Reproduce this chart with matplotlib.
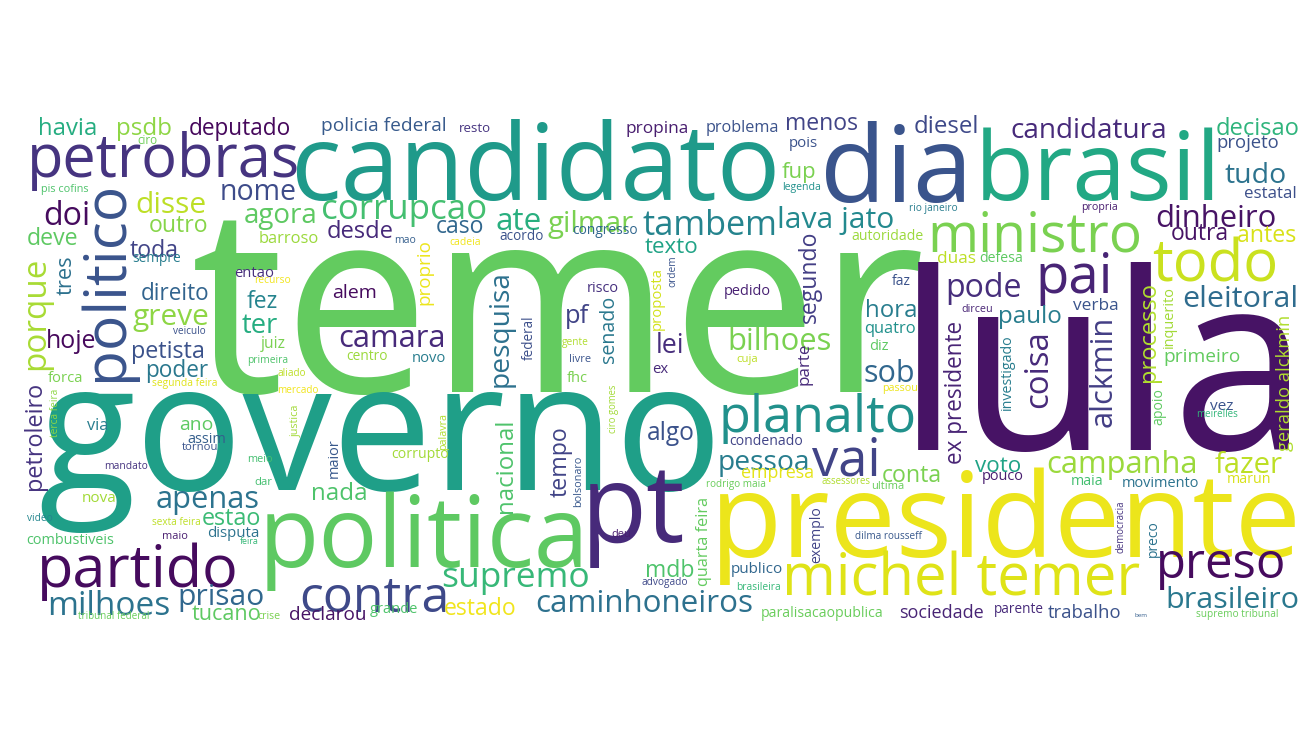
import numpy as np
import matplotlib
matplotlib.use("Agg")
import matplotlib.pyplot as plt
from matplotlib import cm

W, H = 1301, 744
FONT = "Open Sans"

# words of the cloud, biggest first
words = [
    "temer", "lula", "governo", "candidato", "presidente", "politica", "dia", "brasil",
    "petrobras", "pt", "michel temer", "politico", "partido", "ministro", "todo", "planalto",
    "contra", "pai", "vai", "preso", "supremo", "caminhoneiros", "milhoes", "brasileiro",
    "prisao", "apenas", "campanha", "fazer", "bilhoes", "camara", "tambem", "gilmar",
    "corrupcao", "ate", "lava jato", "candidatura", "dinheiro", "eleitoral", "nome", "disse",
    "doi", "pesquisa", "porque", "alckmin", "coisa", "pode", "pessoa", "processo", "segundo",
    "deputado", "havia", "psdb", "policia federal", "diesel", "decisao", "projeto", "tudo",
    "estatal", "menos", "problema", "propina", "resto", "fup", "pois", "agora", "outro",
    "desde", "caso", "deve", "toda", "barroso", "tres", "sempre", "entao", "recurso",
    "direito", "alem", "fez", "greve", "ter", "hoje", "juiz", "veiculo", "petista", "centro",
    "novo", "primeira", "poder", "aliado", "forca", "segunda feira", "mercado", "petroleiro",
    "terca feira", "via", "ano", "justica", "palavra", "assim", "tornou", "maior", "corrupto",
    "mandato", "meio", "dar", "nada", "nova", "estao", "video", "sexta feira", "disputa",
    "maio", "feira", "combustiveis", "tucano", "declarou", "grande", "tribunal federal",
    "crise", "risco", "pedido", "pf", "senado", "federal", "lei", "gente", "livre", "cuja",
    "parte", "proposta", "ordem", "texto", "acordo", "cadeia", "congresso", "hora", "quatro",
    "diz", "faz", "sob", "passou", "legenda", "ex", "fhc", "ciro gomes", "algo", "condenado",
    "nacional", "tempo", "bolsonaro", "empresa", "rodrigo maia", "quarta feira", "exemplo",
    "deu", "mdb", "publico", "advogado", "brasileira", "estado", "paralisacaopublica",
    "assessores", "autoridade", "rio janeiro", "propria", "outra", "antes", "duas", "defesa",
    "paulo", "verba", "dirceu", "inquerito", "primeiro", "ex presidente", "investigado",
    "geraldo alckmin", "voto", "pouco", "maia", "movimento", "marun", "apoio", "vez",
    "meirelles", "ultima", "conta", "dilma rousseff", "democracia", "preco", "sociedade",
    "parente", "trabalho", "bem", "supremo tribunal", "ciro", "pis cofins", "mao", "proprio",
]

# layout (pixels, y down)
# 'h': (ink left, ink right, baseline y, shade)
# 'v': (ink bottom, ink top, ink left, ink right, shade)  -- reads bottom to top
layout = {
    "temer": ("h", 195, 919, 392, 0.76),
    "lula": ("h", 920, 1290, 450, 0.05),
    "governo": ("h", 42, 713, 490, 0.56),
    "candidato": ("h", 297, 775, 200, 0.54),
    "presidente": ("h", 720, 1295, 557, 0.97),
    "politica": ("h", 267, 580, 567, 0.75),
    "dia": ("h", 827, 965, 202, 0.26),
    "brasil": ("h", 983, 1212, 200, 0.6),
    "petrobras": ("h", 32, 297, 177, 0.15),
    "pt": ("h", 590, 682, 542, 0.12),
    "michel temer": ("h", 788, 1140, 595, 0.95),
    "politico": ("v", 382, 190, 83, 140, 0.26),
    "partido": ("h", 42, 235, 587, 0.03),
    "ministro": ("h", 932, 1138, 252, 0.8),
    "todo": ("h", 1153, 1275, 282, 0.92),
    "planalto": ("h", 723, 913, 432, 0.5),
    "contra": ("h", 302, 445, 612, 0.22),
    "pai": ("h", 1040, 1108, 293, 0.1),
    "vai": ("h", 812, 877, 475, 0.2),
    "preso": ("h", 1160, 1283, 578, 0.03),
    "supremo": ("h", 443, 588, 587, 0.67),
    "caminhoneiros": ("h", 537, 752, 612, 0.37),
    "milhoes": ("h", 50, 168, 615, 0.38),
    "brasileiro": ("h", 1168, 1297, 608, 0.4),
    "prisao": ("h", 180, 263, 605, 0.33),
    "apenas": ("h", 157, 258, 508, 0.38),
    "campanha": ("h", 1048, 1195, 473, 0.85),
    "fazer": ("h", 1215, 1282, 473, 0.9),
    "bilhoes": ("h", 730, 830, 350, 0.8),
    "camara": ("h", 340, 443, 347, 0.12),
    "tambem": ("h", 643, 775, 235, 0.45),
    "gilmar": ("h", 548, 633, 232, 0.8),
    "corrupcao": ("h", 323, 485, 219, 0.7),
    "ate": ("h", 497, 540, 230, 0.63),
    "lava jato": ("h", 780, 893, 228, 0.47),
    "candidatura": ("h", 1012, 1165, 138, 0.12),
    "dinheiro": ("h", 1157, 1275, 227, 0.05),
    "eleitoral": ("h", 1184, 1295, 307, 0.35),
    "nome": ("h", 222, 295, 200, 0.23),
    "disse": ("h", 137, 205, 213, 0.9),
    "doi": ("h", 45, 88, 225, 0.03),
    "pesquisa": ("v", 387, 275, 490, 515, 0.37),
    "porque": ("v", 370, 262, 28, 55, 0.87),
    "alckmin": ("v", 427, 320, 1091, 1111, 0.18),
    "coisa": ("v", 408, 335, 1027, 1047, 0.12),
    "pode": ("h", 948, 1020, 297, 0.13),
    "pessoa": ("h", 720, 808, 470, 0.42),
    "processo": ("v", 382, 286, 1146, 1160, 0.88),
    "segundo": ("v", 323, 233, 800, 822, 0.18),
    "deputado": ("h", 190, 290, 135, 0.02),
    "havia": ("h", 40, 95, 135, 0.62),
    "psdb": ("h", 118, 170, 135, 0.83),
    "policia federal": ("h", 323, 445, 131, 0.28),
    "diesel": ("h", 915, 977, 133, 0.22),
    "decisao": ("h", 1217, 1298, 135, 0.65),
    "projeto": ("h", 1218, 1278, 148, 0.25),
    "tudo": ("h", 1225, 1285, 183, 0.38),
    "estatal": ("h", 1245, 1295, 198, 0.24),
    "menos": ("h", 787, 857, 130, 0.2),
    "problema": ("h", 707, 778, 132, 0.25),
    "propina": ("h", 627, 687, 133, 0.08),
    "resto": ("h", 460, 490, 132, 0.15),
    "fup": ("h", 782, 815, 178, 0.8),
    "pois": ("h", 790, 817, 147, 0.25),
    "agora": ("h", 245, 315, 223, 0.75),
    "outro": ("h", 150, 207, 232, 0.82),
    "desde": ("h", 328, 392, 238, 0.12),
    "caso": ("h", 437, 483, 233, 0.33),
    "deve": ("h", 28, 77, 245, 0.75),
    "toda": ("h", 130, 177, 257, 0.2),
    "barroso": ("h", 260, 318, 243, 0.85),
    "tres": ("v", 295, 257, 58, 72, 0.37),
    "sempre": ("h", 133, 180, 262, 0.42),
    "entao": ("h", 235, 273, 277, 0.13),
    "recurso": ("h", 255, 290, 283, 0.98),
    "direito": ("h", 142, 208, 300, 0.32),
    "alem": ("h", 333, 375, 298, 0.03),
    "fez": ("h", 247, 277, 308, 0.45),
    "greve": ("h", 133, 208, 325, 0.83),
    "ter": ("h", 242, 277, 333, 0.62),
    "hoje": ("h", 48, 95, 348, 0.02),
    "juiz": ("h", 260, 285, 348, 0.8),
    "veiculo": ("h", 173, 205, 334, 0.25),
    "petista": ("h", 133, 203, 358, 0.25),
    "centro": ("h", 347, 387, 360, 0.85),
    "novo": ("h", 413, 445, 362, 0.42),
    "primeira": ("h", 248, 287, 363, 0.72),
    "poder": ("h", 147, 208, 377, 0.4),
    "aliado": ("h", 278, 305, 376, 0.9),
    "forca": ("h", 48, 82, 382, 0.8),
    "segunda feira": ("h", 153, 217, 386, 0.95),
    "mercado": ("h", 278, 318, 393, 0.98),
    "petroleiro": ("v", 490, 385, 30, 43, 0.15),
    "terca feira": ("v", 437, 390, 50, 58, 0.83),
    "via": ("h", 87, 107, 430, 0.42),
    "ano": ("h", 180, 212, 430, 0.75),
    "justica": ("v", 437, 405, 290, 300, 0.86),
    "palavra": ("v", 450, 415, 440, 448, 0.88),
    "assim": ("h", 188, 225, 443, 0.3),
    "tornou": ("h", 182, 217, 450, 0.26),
    "maior": ("v", 478, 440, 328, 340, 0.27),
    "corrupto": ("h", 392, 448, 458, 0.86),
    "mandato": ("h", 105, 147, 469, 0.15),
    "meio": ("h", 248, 272, 462, 0.7),
    "dar": ("h", 255, 272, 485, 0.7),
    "nada": ("h", 313, 365, 500, 0.72),
    "nova": ("h", 83, 115, 502, 0.86),
    "estao": ("h", 203, 260, 525, 0.68),
    "video": ("h", 27, 52, 521, 0.46),
    "sexta feira": ("h", 153, 200, 525, 0.9),
    "disputa": ("h", 208, 258, 537, 0.38),
    "maio": ("h", 163, 187, 539, 0.08),
    "feira": ("h", 240, 258, 544, 0.67),
    "combustiveis": ("h", 27, 113, 544, 0.72),
    "tucano": ("h", 192, 260, 620, 0.75),
    "declarou": ("h", 290, 365, 620, 0.05),
    "grande": ("h", 370, 417, 613, 0.72),
    "tribunal federal": ("h", 78, 148, 619, 0.77),
    "crise": ("h", 258, 280, 619, 0.8),
    "risco": ("h", 588, 618, 292, 0.14),
    "pedido": ("h", 725, 770, 295, 0.09),
    "pf": ("h", 567, 590, 323, 0.2),
    "senado": ("v", 363, 298, 597, 617, 0.4),
    "federal": ("v", 360, 317, 523, 532, 0.24),
    "lei": ("h", 658, 682, 353, 0.13),
    "gente": ("h", 562, 588, 345, 0.88),
    "livre": ("h", 570, 590, 362, 0.26),
    "cuja": ("h", 737, 757, 362, 0.9),
    "parte": ("v", 385, 345, 800, 812, 0.12),
    "proposta": ("v", 330, 270, 653, 665, 0.93),
    "ordem": ("v", 287, 257, 667, 677, 0.26),
    "texto": ("h", 645, 697, 253, 0.58),
    "acordo": ("h", 500, 543, 240, 0.25),
    "cadeia": ("h", 450, 480, 245, 0.98),
    "congresso": ("h", 573, 637, 234, 0.33),
    "hora": ("h", 867, 915, 317, 0.42),
    "quatro": ("h", 865, 915, 333, 0.5),
    "diz": ("h", 870, 888, 350, 0.75),
    "faz": ("h", 892, 910, 285, 0.25),
    "sob": ("h", 865, 913, 382, 0.33),
    "passou": ("h", 883, 917, 391, 0.97),
    "legenda": ("h", 783, 820, 190, 0.5),
    "ex": ("h", 653, 668, 373, 0.12),
    "fhc": ("h", 567, 587, 382, 0.8),
    "ciro gomes": ("v", 433, 385, 610, 617, 0.86),
    "algo": ("h", 648, 693, 440, 0.25),
    "condenado": ("h", 730, 802, 445, 0.2),
    "nacional": ("v", 513, 423, 497, 512, 0.72),
    "tempo": ("v", 497, 428, 553, 570, 0.2),
    "bolsonaro": ("v", 507, 457, 573, 582, 0.27),
    "empresa": ("h", 742, 813, 478, 0.96),
    "rodrigo maia": ("h", 707, 765, 487, 0.77),
    "quarta feira": ("v", 585, 498, 697, 710, 0.76),
    "exemplo": ("v", 563, 508, 812, 823, 0.2),
    "deu": ("h", 612, 630, 537, 0.08),
    "mdb": ("h", 647, 693, 577, 0.72),
    "publico": ("h", 732, 782, 573, 0.33),
    "advogado": ("h", 642, 687, 585, 0.22),
    "brasileira": ("h", 737, 780, 590, 0.67),
    "estado": ("h", 445, 515, 615, 0.98),
    "paralisacaopublica": ("h", 763, 882, 617, 0.77),
    "assessores": ("h", 822, 870, 484, 0.88),
    "autoridade": ("h", 853, 923, 240, 0.85),
    "rio janeiro": ("h", 910, 957, 211, 0.42),
    "propria": ("h", 1082, 1117, 210, 0.08),
    "outra": ("h", 1172, 1227, 240, 0.05),
    "antes": ("h", 1238, 1295, 242, 0.94),
    "duas": ("h", 938, 975, 263, 0.9),
    "defesa": ("h", 980, 1022, 262, 0.75),
    "paulo": ("h", 1000, 1060, 323, 0.42),
    "verba": ("h", 1073, 1117, 310, 0.26),
    "dirceu": ("h", 962, 992, 312, 0.1),
    "inquerito": ("v", 348, 288, 1165, 1175, 0.86),
    "primeiro": ("h", 1165, 1239, 362, 0.76),
    "ex presidente": ("v", 463, 322, 948, 963, 0.1),
    "investigado": ("v", 410, 336, 1003, 1014, 0.42),
    "geraldo alckmin": ("v", 451, 317, 1278, 1292, 0.88),
    "voto": ("h", 975, 1020, 472, 0.58),
    "pouco": ("h", 983, 1023, 480, 0.08),
    "maia": ("h", 1072, 1102, 485, 0.7),
    "movimento": ("h", 1123, 1198, 487, 0.38),
    "marun": ("h", 1228, 1270, 483, 0.94),
    "apoio": ("v", 425, 390, 1155, 1164, 0.75),
    "vez": ("h", 1210, 1233, 410, 0.26),
    "meirelles": ("h", 1197, 1237, 417, 0.66),
    "ultima": ("h", 872, 903, 489, 0.77),
    "conta": ("h", 883, 940, 482, 0.8),
    "dilma rousseff": ("h", 855, 922, 539, 0.27),
    "democracia": ("v", 553, 502, 1115, 1125, 0.15),
    "preco": ("v", 557, 522, 1150, 1162, 0.38),
    "sociedade": ("h", 900, 983, 618, 0.1),
    "parente": ("h", 995, 1043, 613, 0.12),
    "trabalho": ("h", 1048, 1120, 618, 0.25),
    "bem": ("h", 1135, 1147, 617, 0.3),
    "supremo tribunal": ("h", 1197, 1278, 617, 0.77),
    "ciro": ("h", 138, 157, 144, 0.78),
    "pis cofins": ("h", 42, 88, 192, 0.72),
    "mao": ("h", 395, 415, 243, 0.3),
    "proprio": ("v", 305, 242, 420, 432, 0.97),
}


def make_canvas():
    f = plt.figure(figsize=(W / 100, H / 100), dpi=100)
    a = f.add_axes([0, 0, 1, 1])
    a.set_xlim(0, W)
    a.set_ylim(H, 0)
    a.axis("off")
    return f, a


# measure where the ink of each word lands, at a test size, from the pixels
TEST = 60
mfig, max_ = make_canvas()
probe = max_.text(650, 372, "", fontsize=TEST, family=FONT, color="black",
                  ha="center", va="baseline")
ink = {}
for w in words:
    vert = layout[w][0] == "v"
    probe.set_text(w)
    probe.set_rotation(90 if vert else 0)
    probe.set_rotation_mode("anchor")
    mfig.canvas.draw()
    img = np.asarray(mfig.canvas.buffer_rgba())[:, :, :3].min(axis=2)
    ys, xs = np.nonzero(img < 200)
    ink[w] = (xs.min() - 650, xs.max() + 1 - 650, ys.min() - 372, ys.max() + 1 - 372)
plt.close(mfig)

fig, ax = make_canvas()
for w in words:
    spec = layout[w]
    ix0, ix1, iy0, iy1 = ink[w]
    if spec[0] == "h":
        _, x0, x1, base, shade = spec
        k = (x1 - x0) / (ix1 - ix0)
        px = (x0 + x1) / 2 - k * (ix0 + ix1) / 2
        py = base
        rot = 0
    else:
        _, yb, yt, xl, xr, shade = spec
        k = (yb - yt) / (iy1 - iy0)
        py = (yb + yt) / 2 - k * (iy0 + iy1) / 2
        px = (xl + xr) / 2 - k * (ix0 + ix1) / 2
        rot = 90
    ax.text(px, py, w, fontsize=TEST * k, family=FONT, color=cm.viridis(shade),
            ha="center", va="baseline", rotation=rot, rotation_mode="anchor")

fig.savefig("out.png", dpi=100, facecolor="white")
